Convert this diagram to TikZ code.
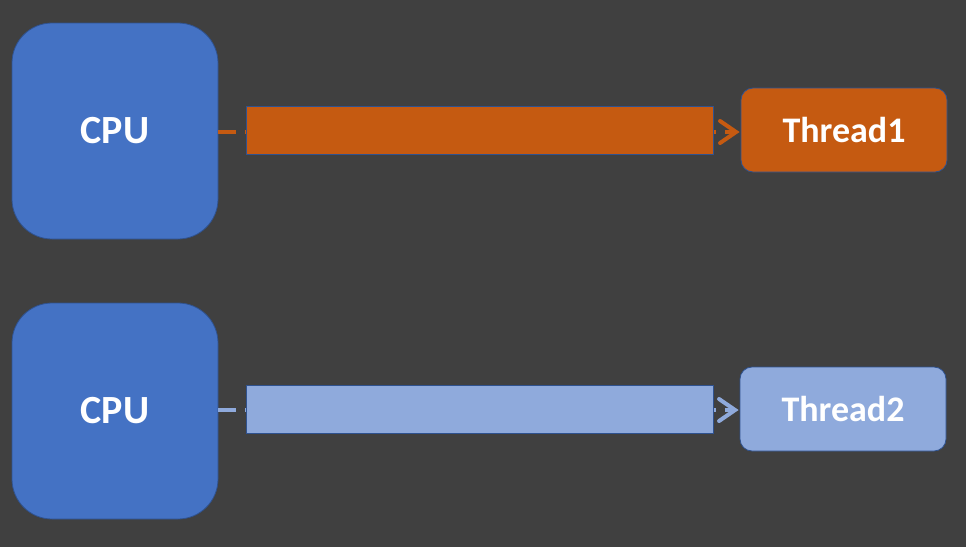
\documentclass[tikz,border=0pt]{standalone}
\usepackage{fontspec}
\setmainfont{Carlito}
\usetikzlibrary{arrows.meta}
\definecolor{bg}{HTML}{404040}
\definecolor{cpublue}{HTML}{4472C4}
\definecolor{edgeblue}{HTML}{2F528F}
\definecolor{orng}{HTML}{C55A11}
\definecolor{lblue}{HTML}{8FAADC}
\tikzset{
  cpubox/.style={draw=edgeblue, line width=0.8pt, fill=cpublue, rounded corners=40pt,
    minimum width=206pt, minimum height=216pt, inner sep=0pt,
    text=white, font=\bfseries\fontsize{40}{44}\selectfont},
  thbox/.style={draw=edgeblue, line width=0.8pt, rounded corners=12pt,
    minimum width=206pt, minimum height=84pt, inner sep=0pt,
    text=white, font=\bfseries\fontsize{36}{40}\selectfont},
  barbox/.style={draw=edgeblue, line width=0.6pt, minimum width=467pt, minimum height=48pt, inner sep=0pt},
  link/.style={line width=4pt, dash pattern=on 18pt off 8.67pt,
    -{Straight Barb[length=16pt,width=22pt,line cap=round]}}
}
\begin{document}
\begin{tikzpicture}[x=1pt,y=-1pt]
\fill[bg] (0,0) rectangle (966,547);
\useasboundingbox (0,0) rectangle (966,547);
\node[cpubox] (cpu1) at (115,131) {CPU};
\node[cpubox] (cpu2) at (115,411) {CPU};
\node[thbox, fill=orng] (t1) at (844,130) {Thread1};
\node[thbox, fill=lblue] (t2) at (843,409) {Thread2};
\draw[link, orng] ([yshift=-1pt]cpu1.east) -- ([yshift=-1pt,xshift=-1pt]cpu1.east -| t1.west);
\draw[link, lblue] ([yshift=1pt]cpu2.east) -- ([yshift=1pt,xshift=-1pt]cpu2.east -| t2.west);
\node[barbox, fill=orng] (bar1) at (479.5,130) {};
\node[barbox, fill=lblue] (bar2) at (479.5,409) {};
\end{tikzpicture}
\end{document}
